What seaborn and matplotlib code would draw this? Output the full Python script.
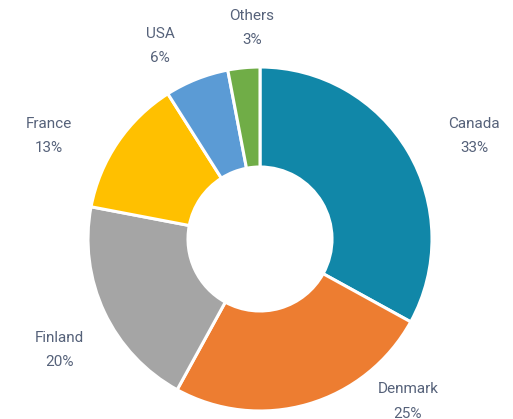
import matplotlib
matplotlib.use("Agg")
import matplotlib.pyplot as plt
import seaborn as sns

# Share by country (%)
countries = ["Canada", "Denmark", "Finland", "France", "USA", "Others"]
shares = [33, 25, 20, 13, 6, 3]
colors = ["#1187A8", "#ED7D31", "#A5A5A5", "#FFC000", "#5B9BD5", "#70AD47"]

# label centres in pixels (x, y from top) - placed by hand like the original
label_pos = [(474, 124), (408, 389), (59, 338), (49, 124), (160, 34), (252, 16)]

sns.set_theme(style="white")
plt.rcParams["font.family"] = ["Roboto", "DejaVu Sans"]

W, H = 513, 419
fig = plt.figure(figsize=(W / 100, H / 100), dpi=100)
ax = fig.add_axes([0, 0, 1, 1])

cx, cy = 260, 239
R, r = 172, 72
ax.pie(shares, colors=colors, startangle=90, counterclock=False,
       center=(cx, H - cy), radius=R,
       wedgeprops=dict(width=R - r, edgecolor="white", linewidth=2.2))

txt_color = "#56627A"
for name, val, (lx, ly) in zip(countries, shares, label_pos):
    ax.text(lx, H - ly, name, ha="center", va="center", fontsize=11, color=txt_color)
    ax.text(lx, H - ly - 24.5, f"{val}%", ha="center", va="center", fontsize=11, color=txt_color)

ax.set_xlim(0, W)
ax.set_ylim(0, H)
ax.set_aspect("equal")
ax.axis("off")

fig.savefig("out.png", dpi=100, facecolor="white")
